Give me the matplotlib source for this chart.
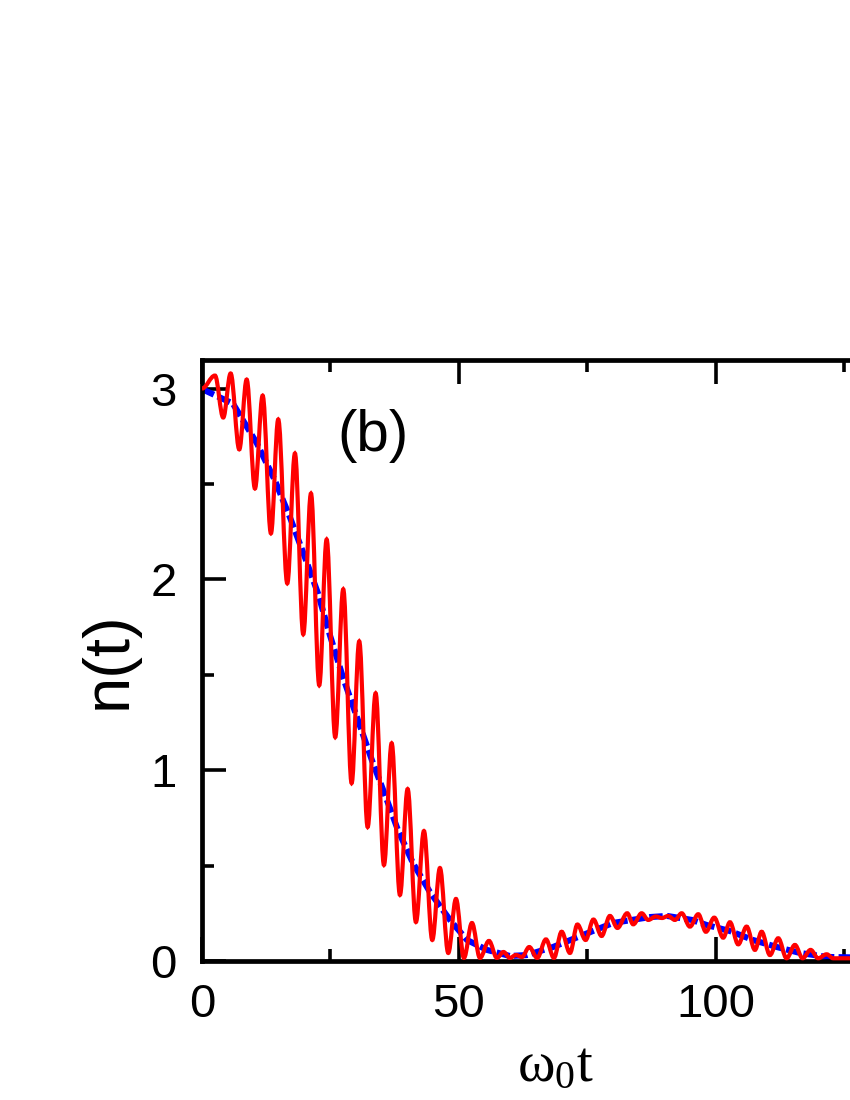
import numpy as np
import matplotlib
matplotlib.use('Agg')
import matplotlib.pyplot as plt
from matplotlib.path import Path
from matplotlib.patches import PathPatch

# red curve: turning points (peaks / troughs)
red_t = [0.0, 2.53, 4.14, 5.58, 7.26, 8.70, 10.31, 11.81, 13.42, 14.84,
         16.60, 18.09, 19.71, 21.21, 22.82, 24.26, 25.93, 27.49, 29.12, 30.60,
         32.24, 33.79, 35.41, 36.91, 38.52, 40.02, 41.63, 43.19, 44.81, 46.30,
         47.92, 49.42, 50.97, 52.53, 54.09, 55.84, 57.39, 58.66, 59.92, 61.09,
         62.26, 63.68, 65.23, 66.93, 68.48, 69.98, 71.60, 73.05, 74.65, 76.17,
         77.76, 79.38, 80.84, 82.74, 83.91, 85.55, 86.83, 88.30, 89.50, 90.70,
         92.02, 93.33, 94.94, 96.56, 98.05, 99.67, 101.42, 102.72, 104.34, 105.97,
         107.59, 108.89, 110.51, 112.12, 113.75, 115.37, 116.87, 118.42, 119.90, 121.54,
         122.82, 128.0]
red_n = [3.000, 3.068, 2.848, 3.079, 2.681, 3.047, 2.476, 2.963, 2.241, 2.838,
         1.979, 2.660, 1.712, 2.450, 1.445, 2.209, 1.173, 1.948, 0.932, 1.675,
         0.702, 1.403, 0.503, 1.141, 0.346, 0.901, 0.204, 0.681, 0.110, 0.487,
         0.042, 0.325, 0.016, 0.199, 0.016, 0.105, 0.016, 0.047, 0.016, 0.031,
         0.021, 0.073, 0.016, 0.113, 0.016, 0.153, 0.042, 0.191, 0.110, 0.217,
         0.131, 0.236, 0.173, 0.250, 0.192, 0.250, 0.215, 0.233, 0.225, 0.236,
         0.215, 0.250, 0.180, 0.245, 0.153, 0.227, 0.122, 0.203, 0.087, 0.180,
         0.058, 0.153, 0.031, 0.119, 0.014, 0.084, 0.014, 0.058, 0.014, 0.035,
         0.014, 0.014]

# blue dashed curve
blue_t = [0.0, 0.58, 6.03, 10.70, 14.20, 17.12, 20.04, 22.57, 24.90, 27.43,
          30.16, 33.07, 35.99, 38.13, 41.05, 44.36, 48.25, 51.56, 55.45, 59.92,
          63.23, 68.29, 74.12, 79.96, 87.16, 90.47, 95.33, 98.25, 102.72, 107.20,
          111.87, 116.34, 121.60, 128.0]
blue_n = [3.000, 2.990, 2.921, 2.712, 2.518, 2.325, 2.115, 1.927, 1.707, 1.487,
          1.277, 1.052, 0.843, 0.686, 0.513, 0.361, 0.215, 0.110, 0.058, 0.026,
          0.031, 0.073, 0.136, 0.199, 0.230, 0.236, 0.215, 0.188, 0.157, 0.110,
          0.073, 0.042, 0.021, 0.018]

xmajor = [0, 50, 100]
xminor = [25, 75, 125]
ymajor = [0, 1, 2, 3]
yminor = [0.5, 1.5, 2.5]


def smooth_path(xs, ys, k=0.36):
    # cubic segments with flat tangents at each turning point
    verts = [(xs[0], ys[0])]
    codes = [Path.MOVETO]
    for i in range(len(xs) - 1):
        dx = xs[i + 1] - xs[i]
        verts += [(xs[i] + k * dx, ys[i]), (xs[i + 1] - k * dx, ys[i + 1]), (xs[i + 1], ys[i + 1])]
        codes += [Path.CURVE4] * 3
    return Path(verts, codes)


plt.rcParams['font.family'] = ['Liberation Sans', 'DejaVu Sans']
plt.rcParams['mathtext.fontset'] = 'custom'
plt.rcParams['mathtext.rm'] = 'Liberation Serif'
plt.rcParams['mathtext.it'] = 'Liberation Serif:italic'

fig = plt.figure(figsize=(8.5, 11), dpi=100)
ax = fig.add_axes([0.2376, 0.1264, 0.907, 0.5464])

ax.plot(blue_t, blue_n, color='#0000FF', lw=4.4, dashes=(2.2, 0.7), zorder=2)
ax.add_patch(PathPatch(smooth_path(red_t, red_n), facecolor='none',
                       edgecolor='#FF0000', lw=3.0, zorder=3))

ax.set_xlim(0, 150)
ax.set_ylim(0, 3.15)
ax.set_xticks(xmajor)
ax.set_xticks(xminor, minor=True)
ax.set_yticks(ymajor)
ax.set_yticks(yminor, minor=True)

ax.tick_params(which='both', direction='in', top=True, right=True, width=2.6, labelsize=34)
ax.tick_params(which='major', length=17)
ax.tick_params(which='minor', length=8.5)
ax.tick_params(axis='x', pad=16)
ax.tick_params(axis='y', pad=18)
for s in ax.spines.values():
    s.set_linewidth(3.4)

ax.set_xlabel(r'$\mathrm{\omega_0t}$', fontsize=41)
ax.xaxis.set_label_coords(0.458, -0.13)
ax.set_ylabel('n(t)', fontsize=47)
ax.yaxis.set_label_coords(-0.082, 0.5)

ax.text(0.222, 0.873, '(b)', transform=ax.transAxes, fontsize=42, ha='center', va='center')

fig.savefig('out.png', dpi=100)
